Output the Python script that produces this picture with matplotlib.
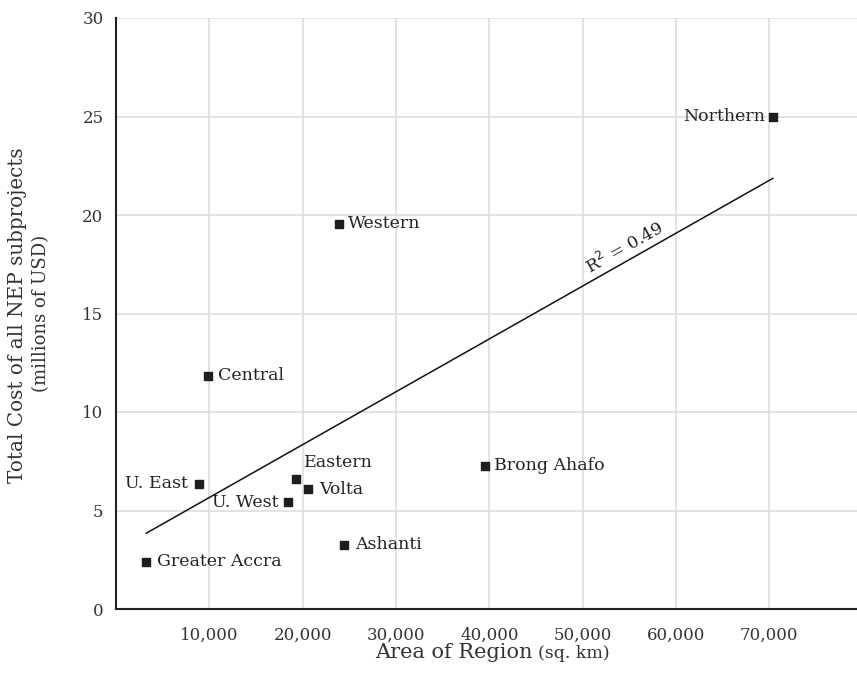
import matplotlib.pyplot as plt
import numpy as np

# Surface des régions (km²) et coût total des sous-projets NEP (millions USD)
regions = ["Northern", "Western", "Central", "Brong Ahafo", "Eastern",
           "Volta", "U. West", "U. East", "Ashanti", "Greater Accra"]
area = [70384, 23921, 9826, 39557, 19323, 20570, 18476, 8842, 24389, 3245]
cost = [25.0, 19.55, 11.85, 7.26, 6.6, 6.09, 5.43, 6.35, 3.25, 2.39]
# position du libellé : (dx, dy) en pixels, alignement horizontal
label_pos = [(-8, 0, "right"), (9, 0, "left"), (10, 0, "left"), (9, 0, "left"),
             (8, 16, "left"), (11, 0, "left"), (-10, 0, "right"), (-11, 0, "right"),
             (11, 0, "left"), (11, 0, "left")]
r2_text = "R$^2$ = 0.49"

FONT = "DejaVu Serif"
plt.rcParams["font.family"] = FONT

fig = plt.figure(figsize=(8.57, 6.84), dpi=100)
ax = fig.add_axes([116/857, 75/684, 741/857, 591/684])

ax.set_xlim(0, 79400)
ax.set_ylim(0, 30)
ax.set_xticks(np.arange(10000, 80000, 10000))
ax.set_xticklabels(["{:,}".format(v) for v in range(10000, 80000, 10000)])
ax.set_yticks(np.arange(0, 31, 5))
ax.grid(True, color="#dedede", linewidth=1.2)
ax.set_axisbelow(True)
for s in ["top", "right"]:
    ax.spines[s].set_visible(False)
for s in ["left", "bottom"]:
    ax.spines[s].set_color("#222222")
    ax.spines[s].set_linewidth(1.5)
ax.tick_params(length=0, labelsize=12, colors="#333333")
ax.tick_params(axis="x", pad=13)
ax.tick_params(axis="y", pad=9)

# droite de régression
coef = np.polyfit(area, cost, 1)
xs = np.array([min(area), max(area)])
ax.plot(xs, np.polyval(coef, xs), color="#111111", linewidth=1.1, zorder=2)

ax.scatter(area, cost, marker="s", s=36, color="#1e1e1e", zorder=3)

for name, x, y, (dx, dy, ha) in zip(regions, area, cost, label_pos):
    ax.annotate(name, (x, y), xytext=(dx*0.72, dy*0.72), textcoords="offset points",
                ha=ha, va="center", fontsize=12.5, color="#222222")

# annotation R²
xr = 55000
p1 = ax.transData.transform((xs[0], np.polyval(coef, xs[0])))
p2 = ax.transData.transform((xs[1], np.polyval(coef, xs[1])))
ang = np.degrees(np.arctan2(p2[1]-p1[1], p2[0]-p1[0]))
ax.annotate(r2_text, (xr, np.polyval(coef, xr)), xytext=(0, 2), textcoords="offset points",
            rotation=ang, rotation_mode="anchor", ha="center", va="bottom",
            fontsize=12.5, color="#222222")

# titres des axes
fig.text(18/857, 1 - 315/684, "Total Cost of all NEP subprojects", rotation=90,
         ha="center", va="center", fontsize=14.3, color="#333333")
fig.text(41/857, 1 - 313/684, "(millions of USD)", rotation=90,
         ha="center", va="center", fontsize=13, color="#333333")
fig.text(533/857, 1 - 658/684, "Area of Region", ha="right", va="baseline",
         fontsize=15, color="#333333")
fig.text(538/857, 1 - 658/684, "(sq. km)", ha="left", va="baseline",
         fontsize=12.5, color="#333333")

plt.savefig("out.png", dpi=100)
